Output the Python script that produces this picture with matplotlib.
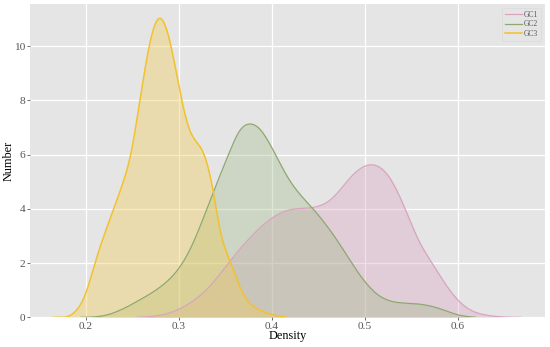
import numpy as np
import matplotlib
matplotlib.use("Agg")
import matplotlib.pyplot as plt

# GC1 (pink)
gc1_x = [0.255, 0.27, 0.29, 0.3118, 0.333, 0.3547, 0.376, 0.3975, 0.419, 0.4439,
         0.4654, 0.4832, 0.5047, 0.526, 0.544, 0.558, 0.5726, 0.594, 0.6083, 0.63, 0.651, 0.668]
gc1_y = [0.0, 0.03, 0.16, 0.52, 1.13, 2.05, 2.91, 3.59, 3.96, 4.05,
         4.4, 5.1, 5.62, 5.19, 3.96, 2.85, 1.99, 0.89, 0.39, 0.085, 0.01, 0.0]

# GC2 (green)
gc2_x = [0.195, 0.2225, 0.258, 0.2832, 0.301, 0.3118, 0.3368, 0.3547, 0.365, 0.376,
         0.387, 0.3975, 0.419, 0.4439, 0.4725, 0.494, 0.5155, 0.537, 0.5547, 0.5796,
         0.601, 0.62]
gc2_y = [0.0, 0.085, 0.64, 1.2, 1.85, 2.48, 4.58, 6.1, 6.85, 7.13,
         6.95, 6.42, 5.07, 4.02, 2.73, 1.6, 0.8, 0.54, 0.5, 0.33,
         0.085, 0.0]

# GC3 (yellow)
gc3_x = [0.165, 0.1867, 0.2, 0.21, 0.2296, 0.2386, 0.2493, 0.2582, 0.2689, 0.2745,
         0.2796, 0.285, 0.2903, 0.301, 0.3118, 0.326, 0.3368, 0.344, 0.3547, 0.3689,
         0.3868, 0.4118, 0.416]
gc3_y = [0.0, 0.15, 0.89, 2.0, 3.96, 4.82, 6.17, 8.0, 10.1, 10.8,
         11.03, 10.8, 10.2, 8.4, 6.91, 6.1, 4.7, 3.3, 2.11, 0.89,
         0.27, 0.02, 0.0]

labels = ["GC1", "GC2", "GC3"]
line_colors = ["#D9A3BE", "#8DA86E", "#F2C12E"]
fill_colors = ["#D9A3BE", "#A3B888", "#F0CD5A"]
fill_alpha = [0.35, 0.35, 0.4]
line_widths = [0.9, 0.9, 1.1]

x_ticks = [0.2, 0.3, 0.4, 0.5, 0.6]
y_ticks = [0, 2, 4, 6, 8, 10]


def smooth(x, y, n=20):
    """Natural cubic spline through the read points (drawing only)."""
    x = np.asarray(x, float); y = np.asarray(y, float)
    N = len(x); h = np.diff(x)
    A = np.zeros((N, N)); b = np.zeros(N)
    A[0, 0] = A[-1, -1] = 1.0
    for i in range(1, N - 1):
        A[i, i - 1] = h[i - 1]; A[i, i] = 2 * (h[i - 1] + h[i]); A[i, i + 1] = h[i]
        b[i] = 6 * ((y[i + 1] - y[i]) / h[i] - (y[i] - y[i - 1]) / h[i - 1])
    M = np.linalg.solve(A, b)
    xs, ys = [], []
    t = np.linspace(0, 1, n, endpoint=False)
    for k in range(N - 1):
        xx = x[k] + t * h[k]
        a = (x[k + 1] - xx) / h[k]; c = (xx - x[k]) / h[k]
        yy = (a * y[k] + c * y[k + 1] +
              ((a**3 - a) * M[k] + (c**3 - c) * M[k + 1]) * h[k]**2 / 6)
        xs.extend(xx); ys.extend(yy)
    xs.append(x[-1]); ys.append(y[-1])
    return np.array(xs), np.clip(np.array(ys), 0, None)


plt.rcParams['font.family'] = ['Liberation Serif', 'DejaVu Serif']
fig = plt.figure(figsize=(5.5, 3.47), dpi=100)
ax = fig.add_axes([0.0545, 0.0856, 0.9365, 0.903])
ax.set_facecolor("#E5E5E5")
for s in ax.spines.values():
    s.set_visible(False)
ax.grid(True, color="white", linewidth=0.9)
ax.set_axisbelow(True)

series = [(gc1_x, gc1_y), (gc2_x, gc2_y), (gc3_x, gc3_y)]
for (xs, ys), lab, lc, fc, fa, lw in zip(series, labels, line_colors, fill_colors,
                                         fill_alpha, line_widths):
    sx, sy = smooth(xs, ys)
    ax.fill_between(sx, 0, sy, color=fc, alpha=fa, linewidth=0)
    ax.plot(sx, sy, color=lc, linewidth=lw, label=lab)

ax.set_xlim(0.14, 0.694)
ax.set_ylim(0, 11.56)
ax.set_xticks(x_ticks)
ax.set_xticklabels([f"{v:.1f}" for v in x_ticks])
ax.set_yticks(y_ticks)
ax.tick_params(colors="#555555", labelsize=8.2, length=2, width=0.6, pad=1.5)
ax.set_xlabel("Density", fontsize=8.8)
ax.set_ylabel("Number", fontsize=8.8)
ax.xaxis.set_label_coords(0.5, -0.042)
ax.yaxis.set_label_coords(-0.029, 0.5)

leg = ax.legend(loc="upper right", fontsize=5.5, frameon=True, handlelength=2.2,
                borderpad=0.4, labelspacing=0.2, handletextpad=0.3)
leg.get_frame().set_facecolor("#E5E5E5")
leg.get_frame().set_edgecolor("#D8D8D8")
leg.get_frame().set_linewidth(0.5)
for t in leg.get_texts():
    t.set_color("#555555")

fig.savefig("out.png", dpi=100)
